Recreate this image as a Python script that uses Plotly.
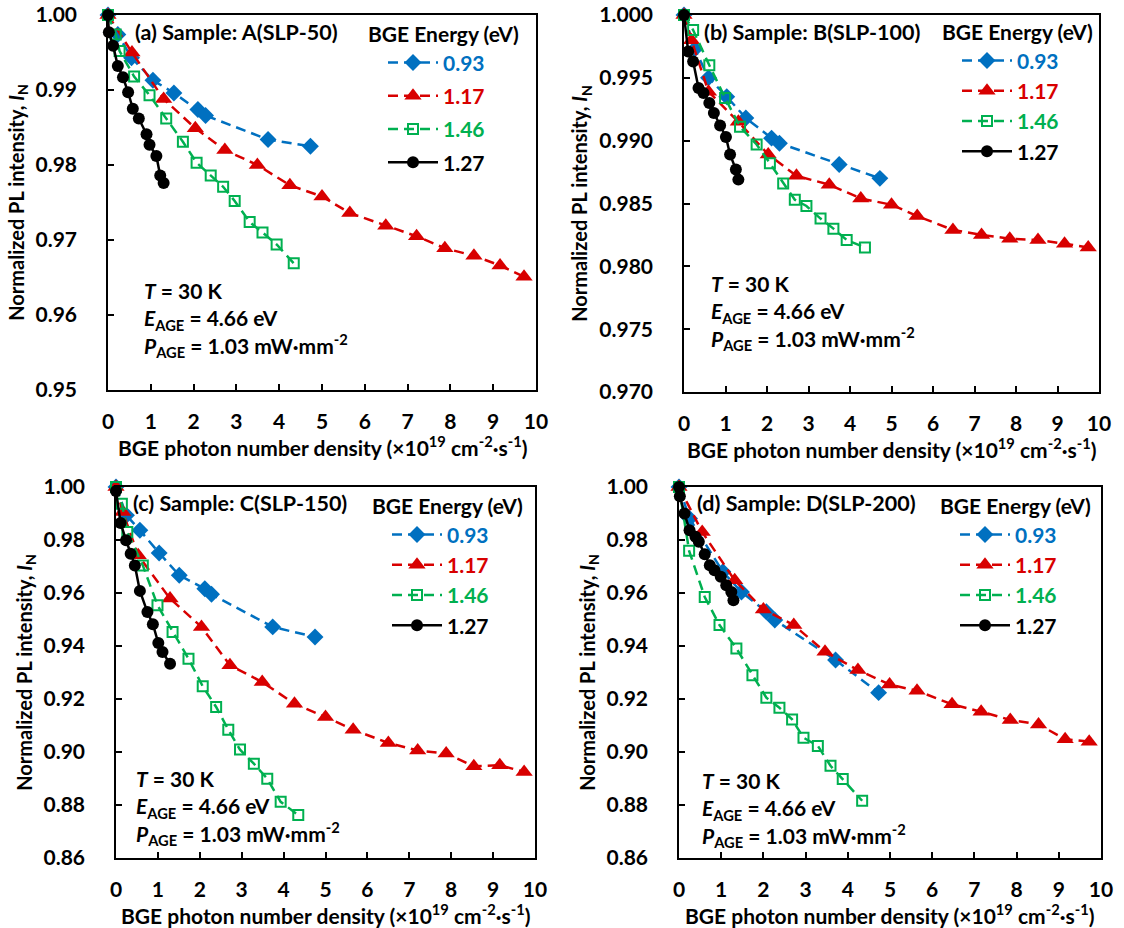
import plotly.graph_objects as go

# ---------------- data ----------------
# Panel (a) Sample A (SLP-50)
a_x_093 = [0, 0.23, 0.55, 1.05, 1.54, 2.10, 2.28, 3.74, 4.73]
a_y_093 = [1.0, 0.9974, 0.9943, 0.9913, 0.9896, 0.9874, 0.9866, 0.9834, 0.9825]
a_x_117 = [0, 0.56, 1.30, 2.04, 2.73, 3.49, 4.25, 5.00, 5.65, 6.49, 7.21, 7.87, 8.55, 9.16, 9.72]
a_y_117 = [1.0, 0.9950, 0.9888, 0.9849, 0.9820, 0.9800, 0.9773, 0.9758, 0.9736, 0.9719, 0.9705, 0.9689, 0.9679, 0.9666, 0.9651]
a_x_146 = [0, 0.18, 0.27, 0.61, 0.97, 1.36, 1.75, 2.07, 2.40, 2.69, 2.96, 3.31, 3.61, 3.94, 4.34]
a_y_146 = [1.0, 0.9974, 0.9952, 0.9918, 0.9893, 0.9862, 0.9831, 0.9803, 0.9786, 0.9771, 0.9752, 0.9724, 0.9710, 0.9694, 0.9669]
a_x_127 = [0, 0.02, 0.12, 0.23, 0.35, 0.47, 0.58, 0.72, 0.90, 0.97, 1.13, 1.22, 1.30]
a_y_127 = [1.0, 0.9977, 0.9959, 0.9932, 0.9917, 0.9897, 0.9875, 0.9862, 0.9841, 0.9827, 0.9812, 0.9786, 0.9776]

# Panel (b) Sample B (SLP-100)
b_x_093 = [0, 0.26, 0.59, 1.03, 1.49, 2.11, 2.30, 3.74, 4.72]
b_y_093 = [1.0, 0.9973, 0.9950, 0.9935, 0.9918, 0.9902, 0.9898, 0.9881, 0.9870]
b_x_117 = [0, 0.18, 0.59, 1.31, 2.03, 2.71, 3.50, 4.26, 5.00, 5.62, 6.48, 7.17, 7.85, 8.53, 9.17, 9.74]
b_y_117 = [1.0, 0.9980, 0.9939, 0.9915, 0.9889, 0.9872, 0.9865, 0.9854, 0.9849, 0.9840, 0.9829, 0.9825, 0.9822, 0.9821, 0.9818, 0.9815]
b_x_146 = [0, 0.22, 0.61, 0.99, 1.35, 1.75, 2.07, 2.39, 2.67, 2.95, 3.29, 3.60, 3.92, 4.36]
b_y_146 = [1.0, 0.9988, 0.9960, 0.9934, 0.9911, 0.9897, 0.9882, 0.9866, 0.9853, 0.9848, 0.9838, 0.9830, 0.9821, 0.9815]
b_x_127 = [0, 0.10, 0.22, 0.35, 0.47, 0.61, 0.72, 0.87, 1.01, 1.11, 1.25, 1.31]
b_y_127 = [1.0, 0.9971, 0.9963, 0.9942, 0.9938, 0.9930, 0.9922, 0.9912, 0.9903, 0.9889, 0.9877, 0.9869]

# Panel (c) Sample C (SLP-150)
c_x_093 = [0, 0.25, 0.57, 1.03, 1.51, 2.12, 2.28, 3.74, 4.75]
c_y_093 = [1.0, 0.9893, 0.9837, 0.9751, 0.9667, 0.9616, 0.9595, 0.9472, 0.9434]
c_x_117 = [0, 0.16, 0.53, 1.29, 2.04, 2.72, 3.49, 4.26, 5.00, 5.66, 6.50, 7.20, 7.88, 8.54, 9.16, 9.74]
c_y_117 = [1.0, 0.9906, 0.9742, 0.9579, 0.9472, 0.9327, 0.9264, 0.9182, 0.9132, 0.9084, 0.9034, 0.9006, 0.8994, 0.8946, 0.8950, 0.8925]
c_x_146 = [0, 0.14, 0.27, 0.64, 0.99, 1.35, 1.73, 2.07, 2.39, 2.68, 2.96, 3.29, 3.61, 3.93, 4.35]
c_y_146 = [1.0, 0.9937, 0.9830, 0.9704, 0.9554, 0.9453, 0.9352, 0.9248, 0.9170, 0.9084, 0.9009, 0.8956, 0.8899, 0.8812, 0.8762]
c_x_127 = [0, 0.11, 0.24, 0.35, 0.45, 0.57, 0.75, 0.88, 1.01, 1.11, 1.29]
c_y_127 = [0.9985, 0.9864, 0.9799, 0.9748, 0.9704, 0.9608, 0.9528, 0.9482, 0.9411, 0.9377, 0.9333]

# Panel (d) Sample D (SLP-200)
d_x_093 = [0, 0.25, 1.04, 1.48, 2.07, 2.27, 3.71, 4.73]
d_y_093 = [1.0, 0.9881, 0.9680, 0.9604, 0.9529, 0.9498, 0.9347, 0.9224]
d_x_117 = [0, 0.55, 1.32, 2.00, 2.72, 3.46, 4.24, 4.99, 5.64, 6.47, 7.16, 7.85, 8.52, 9.15, 9.72]
d_y_117 = [1.0, 0.9830, 0.9648, 0.9538, 0.9479, 0.9378, 0.9309, 0.9255, 0.9231, 0.9180, 0.9152, 0.9121, 0.9104, 0.9048, 0.9039]
d_x_146 = [0, 0.24, 0.61, 0.96, 1.36, 1.74, 2.07, 2.38, 2.68, 2.95, 3.29, 3.59, 3.88, 4.34]
d_y_146 = [1.0, 0.9759, 0.9585, 0.9479, 0.9391, 0.9290, 0.9205, 0.9167, 0.9123, 0.9054, 0.9023, 0.8948, 0.8898, 0.8816]
d_x_127 = [0, 0.02, 0.13, 0.25, 0.39, 0.47, 0.61, 0.73, 0.84, 0.99, 1.12, 1.24, 1.29]
d_y_127 = [1.0, 0.9965, 0.9900, 0.9837, 0.9812, 0.9793, 0.9746, 0.9705, 0.9686, 0.9661, 0.9629, 0.9604, 0.9573]

energies = ["0.93", "1.17", "1.46", "1.27"]
panel_titles = ["(a) Sample: A(SLP-50)", "(b) Sample: B(SLP-100)",
                "(c) Sample: C(SLP-150)", "(d) Sample: D(SLP-200)"]
x_title = "BGE photon number density (×10<sup>19</sup> cm<sup>-2</sup>·s<sup>-1</sup>)"
y_title = "Normalized PL intensity, <i>I</i><sub>N</sub>"
y_ranges = [[0.95, 1.0], [0.97, 1.0], [0.86, 1.0], [0.86, 1.0]]
y_dticks = [0.01, 0.005, 0.02, 0.02]
y_formats = [".2f", ".3f", ".2f", ".2f"]

panels = [
    [(a_x_093, a_y_093), (a_x_117, a_y_117), (a_x_146, a_y_146), (a_x_127, a_y_127)],
    [(b_x_093, b_y_093), (b_x_117, b_y_117), (b_x_146, b_y_146), (b_x_127, b_y_127)],
    [(c_x_093, c_y_093), (c_x_117, c_y_117), (c_x_146, c_y_146), (c_x_127, c_y_127)],
    [(d_x_093, d_y_093), (d_x_117, d_y_117), (d_x_146, d_y_146), (d_x_127, d_y_127)],
]

# ---------------- style ----------------
W, H = 1124, 928
FONT = "Lato"
colors = ["#0070C0", "#D80000", "#00B050", "#000000"]
symbols = ["diamond", "triangle-up", "square-open", "circle"]
msizes = [13, 15, 10, 12]
dashes = ["10px,6px", "10px,6px", "10px,6px", "solid"]

# plot-area boxes in pixels: (left, right, top, bottom)
boxes = [(108, 536, 15, 390), (684, 1099, 15, 392), (116, 535, 487, 858), (679, 1101, 487, 858)]
# panel-title (left, centre y)
title_pos = [(136, 32), (705, 32), (134, 503), (698, 503)]
# legend title (left, centre y) and group gap
legend_pos = [(368, 31), (942, 29), (372, 503), (940, 503)]
legend_gap = [3, 0, 0, 0]
# condition block (left, centre y of last line)
cond_pos = [(145, 347), (712, 340), (137, 835), (703, 837)]


def px_x(p):
    return p / W


def px_y(p):
    return 1 - p / H


fig = go.Figure()

for i, series in enumerate(panels):
    n = "" if i == 0 else str(i + 1)
    leg = "legend" if i == 0 else "legend" + str(i + 1)
    for k, (xs, ys) in enumerate(series):
        fig.add_trace(go.Scatter(
            x=xs, y=ys, mode="lines+markers",
            name="<span style='color:%s'>%s</span>" % (colors[k], energies[k]),
            line=dict(color=colors[k], width=2.5, dash=dashes[k]),
            marker=dict(symbol=symbols[k], size=msizes[k], color=colors[k],
                        line=dict(color=colors[k], width=2 if k == 2 else 0)),
            xaxis="x" + n, yaxis="y" + n, legend=leg, legendgroup="g%d_%d" % (i, k),
            cliponaxis=False,
        ))
    l, r, t, b = boxes[i]
    axis_common = dict(showline=True, linecolor="black", linewidth=1.5, mirror=True,
                       ticks="inside", ticklen=6, tickcolor="black", tickwidth=1.5,
                       showgrid=False, zeroline=False, automargin=False,
                       tickfont=dict(family=FONT, size=21, color="black", weight="bold"))
    fig.layout["xaxis" + n] = dict(
        domain=[px_x(l), px_x(r)], range=[0, 10], dtick=1, anchor="y" + n,
        ticklabelstandoff=12, **axis_common)
    fig.layout["yaxis" + n] = dict(
        domain=[px_y(b), px_y(t)], range=y_ranges[i], dtick=y_dticks[i], tickformat=y_formats[i],
        anchor="x" + n,
        title=dict(text=y_title,
                   font=dict(family=FONT, size=20, color="black", weight="bold"), standoff=6),
        ticklabelstandoff=25, **axis_common)
    # x-axis title placed just below the tick labels
    fig.add_annotation(
        text=x_title, x=px_x((l + r) / 2), y=px_y(b + 56), xref="paper", yref="paper",
        xanchor="center", yanchor="middle", showarrow=False, borderpad=0,
        font=dict(family=FONT, size=21, color="black", weight="bold"))
    lx, ly = legend_pos[i]
    fig.layout[leg] = dict(
        x=px_x(lx - 2), y=px_y(ly - 16), xanchor="left", yanchor="top",
        bgcolor="rgba(0,0,0,0)", itemwidth=50, traceorder="grouped", tracegroupgap=legend_gap[i],
        title=dict(text="BGE Energy (eV)", font=dict(family=FONT, size=21, color="black", weight="bold")),
        font=dict(family=FONT, size=21, color="black", weight="bold"),
        indentation=17,
    )
    tx, ty = title_pos[i]
    fig.add_annotation(
        text=panel_titles[i], x=px_x(tx - 3), y=px_y(ty), xref="paper", yref="paper",
        xanchor="left", yanchor="middle", showarrow=False,
        font=dict(family=FONT, size=21.5, color="black", weight="bold"))
    cx, cy = cond_pos[i]
    fig.add_annotation(
        text="<i>T</i> = 30 K<br><i>E</i><sub>AGE</sub> = 4.66 eV<br><i>P</i><sub>AGE</sub> = 1.03 mW·mm<sup>-2</sup>",
        x=px_x(cx - 3), y=px_y(cy + 16), xref="paper", yref="paper",
        xanchor="left", yanchor="bottom", align="left", showarrow=False,
        font=dict(family=FONT, size=21, color="black", weight="bold"))

fig.update_layout(
    width=W, height=H, margin=dict(l=0, r=0, t=0, b=0, autoexpand=False),
    paper_bgcolor="white", plot_bgcolor="white", showlegend=True,
    font=dict(family=FONT, color="black"),
)

fig.write_html("out.html")
